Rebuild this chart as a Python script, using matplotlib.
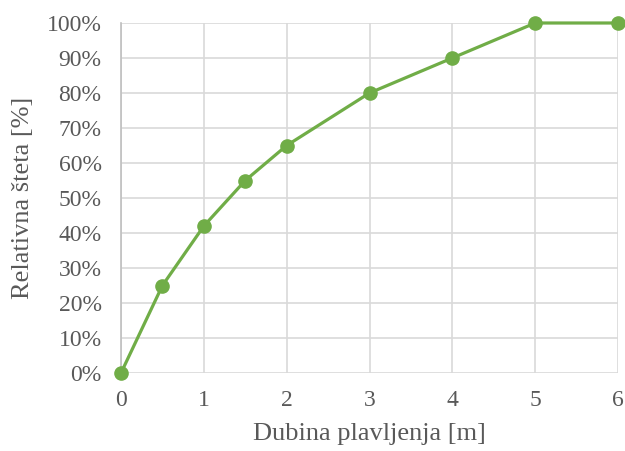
import matplotlib
matplotlib.use("Agg")
import matplotlib.pyplot as plt
from matplotlib.ticker import FuncFormatter

depth = [0, 0.5, 1, 1.5, 2, 3, 4, 5, 6]
damage = [0, 25, 42, 55, 65, 80, 90, 100, 100]
x_ticks = [0, 1, 2, 3, 4, 5, 6]
y_ticks = [0, 10, 20, 30, 40, 50, 60, 70, 80, 90, 100]

plt.rcParams['font.family'] = ['Liberation Serif', 'DejaVu Serif']

fig = plt.figure(figsize=(6.25, 4.51), dpi=100)
ax = fig.add_axes([0.1936, 0.1729, 0.7952, 0.7761])

ax.plot(depth, damage, color='#70AD47', linewidth=2.3, marker='o',
        markersize=9.5, clip_on=False, zorder=3)

ax.set_xlim(0, 6)
ax.set_ylim(0, 100)
ax.set_xticks(x_ticks)
ax.set_yticks(y_ticks)
ax.yaxis.set_major_formatter(FuncFormatter(lambda v, p: f"{int(v)}%"))
ax.grid(True, color='#d9d9d9', linewidth=1.2)
ax.set_axisbelow(True)
for s in ['top', 'right', 'bottom']:
    ax.spines[s].set_visible(False)
ax.spines['left'].set_color('#bfbfbf')
ax.spines['left'].set_linewidth(1.2)
ax.tick_params(length=0, labelsize=17, colors='#595959')
ax.tick_params(axis='y', pad=14)
ax.tick_params(axis='x', pad=12)
ax.set_xlabel('Dubina plavljenja [m]', fontsize=19, color='#595959', labelpad=9)
ax.set_ylabel('Relativna šteta [%]', fontsize=19, color='#595959', labelpad=9)

fig.savefig('out.png', dpi=100)
